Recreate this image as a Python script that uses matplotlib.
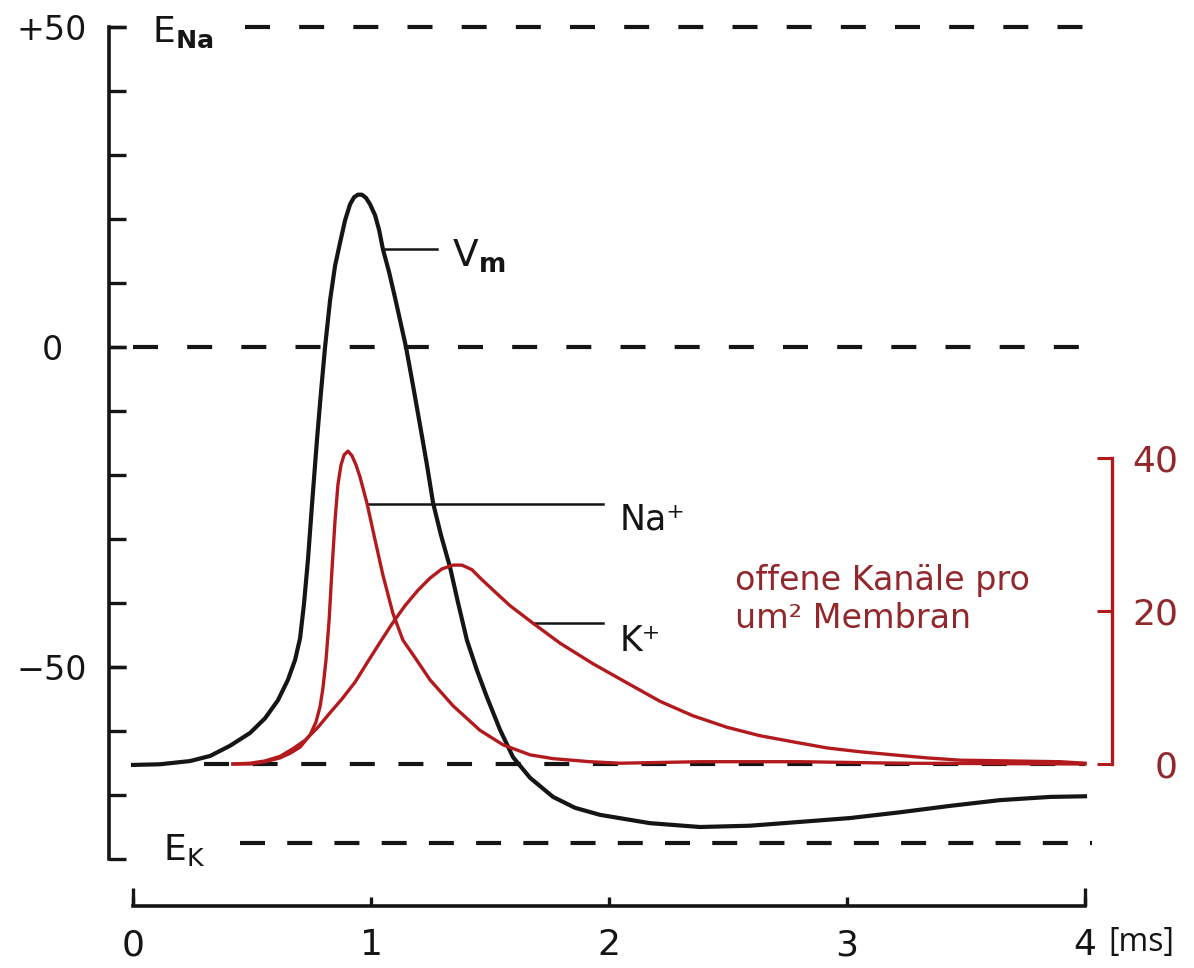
import matplotlib
matplotlib.use("Agg")
import matplotlib.pyplot as plt

plt.rcParams['font.family'] = ['DejaVu Sans']
plt.rcParams['mathtext.fontset'] = 'dejavusans'
plt.rcParams['lines.scale_dashes'] = False

# ---------------- data ----------------
# membrane potential V_m (mV) vs time (ms)
t_vm = [0.000, 0.113, 0.239, 0.324, 0.408, 0.492, 0.555, 0.609, 0.651, 0.681, 0.702,
        0.718, 0.735, 0.752, 0.773, 0.790, 0.807, 0.828, 0.849, 0.870, 0.891, 0.912,
        0.929, 0.945, 0.962, 0.979, 0.996, 1.017, 1.034, 1.050, 1.076, 1.101, 1.122,
        1.147, 1.176, 1.206, 1.235, 1.261, 1.294, 1.332, 1.366, 1.403, 1.445, 1.487,
        1.542, 1.597, 1.668, 1.765, 1.857, 1.962, 2.172, 2.382, 2.592, 2.803, 3.013,
        3.223, 3.433, 3.643, 3.853, 4.000]
v_m = [-65.3, -65.2, -64.7, -63.9, -62.3, -60.3, -58.0, -55.2, -52.0, -48.9, -45.5,
       -40.3, -33.3, -24.7, -14.5, -7.0, 0.0, 7.3, 12.7, 16.3, 19.8, 22.3,
       23.4, 23.8, 23.8, 23.3, 22.3, 20.6, 18.3, 15.3, 11.7, 7.7, 4.2,
       0.0, -5.9, -12.2, -18.4, -24.4, -29.4, -34.4, -40.0, -45.8, -50.5, -54.7,
       -59.8, -64.1, -67.3, -70.3, -72.0, -73.1, -74.4, -75.0, -74.8, -74.2, -73.6,
       -72.7, -71.7, -70.8, -70.3, -70.2]

# open Na+ channels per um^2
t_na = [0.420, 0.492, 0.555, 0.618, 0.660, 0.702, 0.744, 0.769, 0.786, 0.798, 0.811,
        0.824, 0.836, 0.849, 0.861, 0.874, 0.887, 0.903, 0.920, 0.937, 0.954, 0.983,
        1.017, 1.050, 1.092, 1.134, 1.185, 1.248, 1.345, 1.458, 1.555, 1.668, 1.765,
        1.920, 2.046, 2.382, 2.803, 3.223, 4.000]
n_na = [0.0, 0.0, 0.3, 0.8, 1.4, 2.2, 3.8, 5.5, 7.5, 9.9, 13.6,
        18.8, 25.4, 31.9, 36.5, 39.1, 40.4, 40.9, 40.3, 39.1, 37.5, 34.1,
        29.3, 24.7, 19.7, 16.2, 13.9, 11.0, 7.6, 4.4, 2.5, 1.2, 0.7,
        0.3, 0.1, 0.3, 0.3, 0.1, 0.0]

# open K+ channels per um^2
t_k = [0.420, 0.492, 0.555, 0.618, 0.672, 0.723, 0.777, 0.828, 0.878, 0.933, 0.983,
       1.038, 1.088, 1.143, 1.197, 1.248, 1.298, 1.345, 1.382, 1.424, 1.466, 1.521,
       1.584, 1.681, 1.794, 1.933, 2.076, 2.214, 2.353, 2.496, 2.634, 2.773, 2.916,
       3.055, 3.193, 3.336, 3.475, 3.685, 3.895, 4.000]
n_k = [0.0, 0.1, 0.4, 1.0, 2.0, 3.1, 4.8, 6.7, 8.5, 10.7, 13.2,
       15.9, 18.3, 20.7, 22.7, 24.3, 25.5, 26.0, 26.0, 25.4, 24.1, 22.5,
       20.7, 18.4, 15.8, 13.1, 10.6, 8.2, 6.3, 4.8, 3.7, 2.9, 2.1,
       1.6, 1.2, 0.8, 0.5, 0.4, 0.3, 0.1]

E_NA = 50.0
E_K = -77.5
V_REST = -65.2

x_ticks = [0, 1, 2, 3, 4]
x_ticklabels = ['0', '1', '2', '3', '4']
y_major = [-50, 0, 50]
y_major_labels = ['\u221250', '0', '+50']
y_minor = list(range(-80, 51, 10))
r_ticks = [0, 20, 40]
r_ticklabels = ['0', '20', '40']

# ---------------- style ----------------
BLACK = '#151515'
RED = '#b31a1e'
RED_TXT = '#93282c'
PX = 0.72  # points per pixel at dpi 100

fig = plt.figure(figsize=(11.94, 9.68), dpi=100)
ax = fig.add_axes([0, 0, 1, 1])
ax.set_xlim(-133 / 238, (1194 - 133) / 238)
ax.set_ylim((347 - 968) / 6.4, 347 / 6.4)

ax2 = ax.twinx()
ax2.set_ylim((764 - 968) / 7.65, 764 / 7.65)

# dashed reference lines
dash_lw = 3.0
ax.plot([0.47, 4.03], [E_NA, E_NA], color=BLACK, lw=dash_lw, dashes=(18, 21), zorder=1)
ax.plot([0.0, 4.03], [0, 0], color=BLACK, lw=dash_lw, dashes=(18, 21), zorder=1)
ax.plot([0.30, 4.0], [V_REST, V_REST], color=BLACK, lw=dash_lw, dashes=(18, 17), zorder=1)
ax.plot([0.45, 4.03], [E_K, E_K], color=BLACK, lw=dash_lw, dashes=(18, 16), zorder=1)

# curves
ax.plot(t_vm, v_m, color=BLACK, lw=3.0, solid_joinstyle='round', zorder=3)
ax2.plot(t_na, n_na, color=RED, lw=2.4, solid_joinstyle='round', zorder=3)
ax2.plot(t_k, n_k, color=RED, lw=2.4, solid_joinstyle='round', zorder=3)

# label leader lines and labels
lbl_fs = 25
ax.plot([1.050, 1.277], [15.3, 15.3], color=BLACK, lw=1.8)
ax.text(1.340, 12.6, 'V$_\\mathbf{m}$', fontsize=27, color=BLACK, ha='left', va='baseline')
ax.plot([0.983, 1.975], [-24.5, -24.5], color=BLACK, lw=1.8)
ax.text(2.046, -28.5, 'Na\u207a', fontsize=lbl_fs, color=BLACK, ha='left', va='baseline')
ax.plot([1.681, 1.975], [-43.1, -43.1], color=BLACK, lw=1.8)
ax.text(2.046, -47.5, 'K\u207a', fontsize=lbl_fs, color=BLACK, ha='left', va='baseline')

ax.text(0.08, 47.7, 'E$_\\mathbf{Na}$', fontsize=26, color=BLACK, ha='left', va='baseline')
ax.text(0.126, -80.2, 'E$_\\mathrm{K}$', fontsize=26, color=BLACK, ha='left', va='baseline')

ax.text(2.530, -43.9, 'offene Kanäle pro\num² Membran', fontsize=24, color=RED_TXT,
        ha='left', va='baseline', linespacing=1.2)
ax.text(4.097, -93.0, '[ms]', fontsize=23, color=BLACK, family='Open Sans',
        ha='left', va='center')

# left axis
for s in ['top', 'right']:
    ax.spines[s].set_visible(False)
ax.spines['left'].set_position(('data', -24 / 238))
ax.spines['left'].set_bounds(-80, 50)
ax.spines['left'].set_linewidth(2.6)
ax.spines['left'].set_color(BLACK)
ax.set_yticks(y_major)
ax.set_yticklabels(y_major_labels)
ax.set_yticks(y_minor, minor=True)
ax.yaxis.remove_overlapping_locs = False
ax.tick_params(axis='y', which='both', direction='in', length=17 * PX, width=2.4,
               color=BLACK)
ax.tick_params(axis='y', which='major', pad=57 * PX, labelsize=24, labelcolor=BLACK)
for lb in ax.get_yticklabels():
    lb.set_horizontalalignment('center')

# bottom axis
ax.spines['bottom'].set_position(('data', (347 - 906) / 6.4))
ax.spines['bottom'].set_bounds(0, 4)
ax.spines['bottom'].set_linewidth(2.6)
ax.spines['bottom'].set_color(BLACK)
ax.set_xticks(x_ticks)
ax.set_xticklabels(x_ticklabels)
ax.set_xticks([0, 4], minor=True)
ax.xaxis.remove_overlapping_locs = False
ax.tick_params(axis='x', which='major', direction='in', length=9 * PX, width=2.4,
               pad=22 * PX, labelsize=26, color=BLACK, labelcolor=BLACK)
ax.tick_params(axis='x', which='minor', direction='in', length=18 * PX, width=2.4,
               color=BLACK)

# right axis (channels)
for s in ['top', 'left', 'bottom']:
    ax2.spines[s].set_visible(False)
ax2.spines['right'].set_position(('data', (1112 - 133) / 238))
ax2.spines['right'].set_bounds(0, 40)
ax2.spines['right'].set_linewidth(2.4)
ax2.spines['right'].set_color(RED)
ax2.set_yticks(r_ticks)
ax2.set_yticklabels(r_ticklabels)
ax2.tick_params(axis='y', direction='in', length=15 * PX, width=2.2, color=RED,
                pad=66 * PX, labelsize=26, labelcolor=RED_TXT)
for lb in ax2.get_yticklabels():
    lb.set_horizontalalignment('right')

fig.savefig('out.png', dpi=100)
